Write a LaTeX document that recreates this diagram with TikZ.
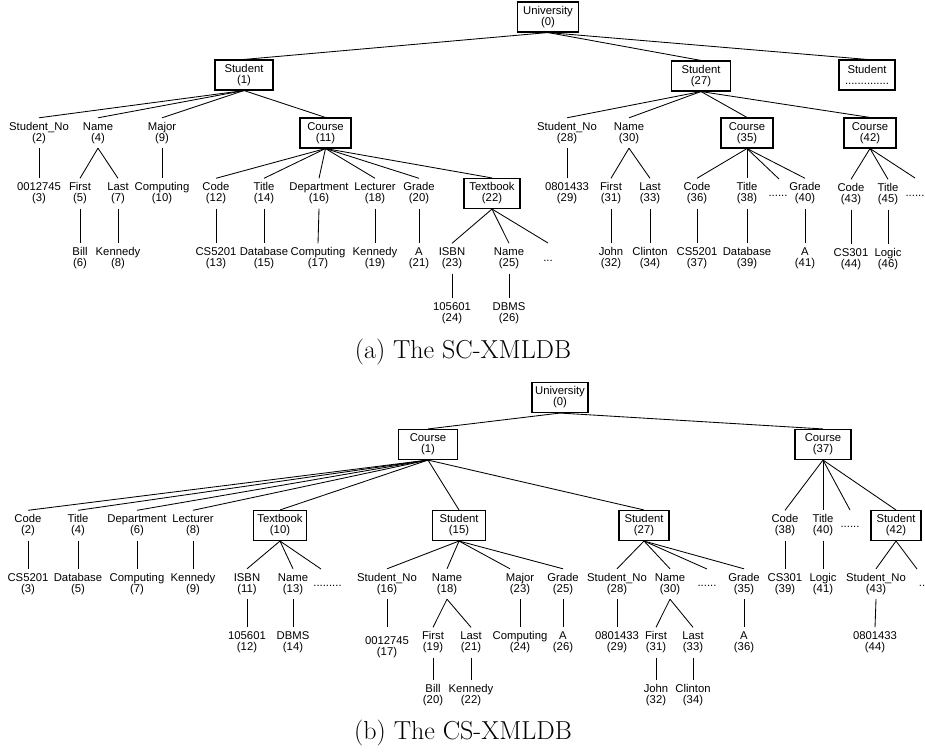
\documentclass[tikz,border=0pt]{standalone}
\usepackage{fontspec}
\newfontfamily\lbfamily{Liberation Sans}
\newcommand{\lbfont}{\lbfamily\fontsize{11.3}{11}\selectfont}
\newcommand{\capfont}{\rmfamily\fontsize{26}{30}\selectfont}
\tikzset{
  lbl/.style={align=center, inner xsep=1pt, inner ysep=1pt, minimum height=30pt, font=\lbfont},
  tbox/.style={lbl, draw, line width=1.1pt, minimum width=#1},
  dotz/.style={inner sep=0pt, anchor=base, font=\lbfont},
  edge/.style={line width=0.85pt},
  capt/.style={font=\capfont, inner sep=0pt},
}
\begin{document}
\begin{tikzpicture}[x=1pt,y=-1pt]
\useasboundingbox (0,0) rectangle (925,754);
% ================= (a) =================
\node[tbox=61pt] (u0) at (548,17) {University\\(0)};
\node[tbox=58pt] (s1) at (244,75) {Student\\(1)};
\node[tbox=59pt] (s27) at (701,76) {Student\\(27)};
\node[tbox=56pt] (sx) at (867,75) {Student\\..............};
\node[lbl] (n2) at (39,133) {Student\_No\\(2)};
\node[lbl] (n4) at (98,133) {Name\\(4)};
\node[lbl] (n9) at (162,133) {Major\\(9)};
\node[tbox=51pt] (c11) at (325.5,133) {Course\\(11)};
\node[lbl] (n28) at (567,133) {Student\_No\\(28)};
\node[lbl] (n30) at (629,133) {Name\\(30)};
\node[tbox=52pt] (c35) at (747,133) {Course\\(35)};
\node[tbox=52pt] (c42) at (870,133) {Course\\(42)};
% row 3
\node[lbl] (n3) at (39,193.5) {0012745\\(3)};
\node[lbl] (n5) at (80,193.5) {First\\(5)};
\node[lbl] (n7) at (118,193.5) {Last\\(7)};
\node[lbl] (n10) at (162,193.5) {Computing\\(10)};
\node[lbl] (n12) at (216,193.5) {Code\\(12)};
\node[lbl] (n14) at (264,193.5) {Title\\(14)};
\node[lbl] (n16) at (319,193.5) {Department\\(16)};
\node[lbl] (n18) at (375,193.5) {Lecturer\\(18)};
\node[lbl] (n20) at (419,193.5) {Grade\\(20)};
\node[tbox=56pt] (t22) at (492,193.5) {Textbook\\(22)};
\node[lbl] (n29) at (567,193.5) {0801433\\(29)};
\node[lbl] (n31) at (611,193.5) {First\\(31)};
\node[lbl] (n33) at (650,193.5) {Last\\(33)};
\node[lbl] (n36) at (697,193.5) {Code\\(36)};
\node[lbl] (n38) at (747,193.5) {Title\\(38)};
\node[lbl] (n40) at (805,193.5) {Grade\\(40)};
\node[lbl] (n43) at (851,194.5) {Code\\(43)};
\node[lbl] (n45) at (888,194.5) {Title\\(45)};
\node[dotz] (d35) at (778,196.6) {......};
\node[dotz] (d42) at (915,196.6) {......};
\coordinate (e35) at (779,179);
\coordinate (e42) at (915,178);
% row 4
\node[lbl] (n6) at (80,258.5) {Bill\\(6)};
\node[lbl] (n8) at (118,258.5) {Kennedy\\(8)};
\node[lbl] (n13) at (216,258.5) {CS5201\\(13)};
\node[lbl] (n15) at (264,258.5) {Database\\(15)};
\node[lbl] (n17) at (318,258.5) {Computing\\(17)};
\node[lbl] (n19) at (375,258.5) {Kennedy\\(19)};
\node[lbl] (n21) at (419,258.5) {A\\(21)};
\node[lbl] (n23) at (452,258.5) {ISBN\\(23)};
\node[lbl] (n25) at (509,258.5) {Name\\(25)};
\node[dotz] (d22) at (548,261.6) {...};
\coordinate (e22) at (548,243);
\node[lbl] (n32) at (611,258.5) {John\\(32)};
\node[lbl] (n34) at (650,258.5) {Clinton\\(34)};
\node[lbl] (n37) at (697,258.5) {CS5201\\(37)};
\node[lbl] (n39) at (747,258.5) {Database\\(39)};
\node[lbl] (n41) at (805,258.5) {A\\(41)};
\node[lbl] (n44) at (851,259.5) {CS301\\(44)};
\node[lbl] (n46) at (888,259.5) {Logic\\(46)};
% row 5
\node[lbl] (n24) at (452,313) {105601\\(24)};
\node[lbl] (n26) at (509,313) {DBMS\\(26)};
% edges (a)
\draw[edge] (u0.south) -- (s1.north);
\draw[edge] (u0.south) -- (s27.north);
\draw[edge] (u0.south) -- (sx.north);
\foreach \t in {n2,n4,n9,c11} \draw[edge] (s1.south) -- (\t.north);
\draw[edge] (n2.south) -- (n3.north);
\draw[edge] (n4.south) -- (n5.north);
\draw[edge] (n4.south) -- (n7.north);
\draw[edge] (n9.south) -- (n10.north);
\foreach \t in {n12,n14,n16,n18,n20,t22} \draw[edge] (c11.south) -- (\t.north);
\draw[edge] (n5.south) -- (n6.north);
\draw[edge] (n7.south) -- (n8.north);
\draw[edge] (n12.south) -- (n13.north);
\draw[edge] (n14.south) -- (n15.north);
\draw[edge] (n16.south) -- (n17.north);
\draw[edge] (n18.south) -- (n19.north);
\draw[edge] (n20.south) -- (n21.north);
\draw[edge] (t22.south) -- (n23.north);
\draw[edge] (t22.south) -- (n25.north);
\draw[edge] (t22.south) -- (e22);
\draw[edge] (n23.south) -- (n24.north);
\draw[edge] (n25.south) -- (n26.north);
\foreach \t in {n28,n30,c35,c42} \draw[edge] (s27.south) -- (\t.north);
\draw[edge] (n28.south) -- (n29.north);
\draw[edge] (n30.south) -- (n31.north);
\draw[edge] (n30.south) -- (n33.north);
\draw[edge] (c35.south) -- (n36.north);
\draw[edge] (c35.south) -- (n38.north);
\draw[edge] (c35.south) -- (e35);
\draw[edge] (c35.south) -- (n40.north);
\draw[edge] (c42.south) -- (n43.north);
\draw[edge] (c42.south) -- (n45.north);
\draw[edge] (c42.south) -- (e42);
\draw[edge] (n31.south) -- (n32.north);
\draw[edge] (n33.south) -- (n34.north);
\draw[edge] (n36.south) -- (n37.north);
\draw[edge] (n38.south) -- (n39.north);
\draw[edge] (n40.south) -- (n41.north);
\draw[edge] (n43.south) -- (n44.north);
\draw[edge] (n45.south) -- (n46.north);
\node[capt] (capa) at (463,352) {(a) The SC-XMLDB};
% ================= (b) =================
\node[tbox=56pt] (bu0) at (560,397.5) {University\\(0)};
\node[tbox=59pt] (bc1) at (428,444.5) {Course\\(1)};
\node[tbox=56pt] (bc37) at (823,444.5) {Course\\(37)};
% row 2
\node[lbl] (b2) at (28,525.5) {Code\\(2)};
\node[lbl] (b4) at (78,525.5) {Title\\(4)};
\node[lbl] (b6) at (137,525.5) {Department\\(6)};
\node[lbl] (b8) at (193,525.5) {Lecturer\\(8)};
\node[tbox=53pt] (bt10) at (280,525.5) {Textbook\\(10)};
\node[tbox=53pt] (bs15) at (459,525.5) {Student\\(15)};
\node[tbox=50pt] (bs27) at (644,525.5) {Student\\(27)};
\node[lbl] (b38) at (785,525.5) {Code\\(38)};
\node[lbl] (b40) at (823,525.5) {Title\\(40)};
\node[dotz] (bd37) at (850,527.6) {......};
\coordinate (be37) at (850,510);
\node[tbox=50pt] (bs42) at (896,525.5) {Student\\(42)};
% row 3
\node[lbl] (b3) at (28,584) {CS5201\\(3)};
\node[lbl] (b5) at (78,584) {Database\\(5)};
\node[lbl] (b7) at (137,584) {Computing\\(7)};
\node[lbl] (b9) at (193,584) {Kennedy\\(9)};
\node[lbl] (b11) at (247,584) {ISBN\\(11)};
\node[lbl] (b13) at (293,584) {Name\\(13)};
\node[dotz] (bd10) at (327.5,586.6) {.........};
\coordinate (be10) at (321,569);
\node[lbl] (b16) at (387,584) {Student\_No\\(16)};
\node[lbl] (b18) at (447,584) {Name\\(18)};
\node[lbl] (b23) at (520,584) {Major\\(23)};
\node[lbl] (b25) at (563,584) {Grade\\(25)};
\node[lbl] (b28) at (617,584) {Student\_No\\(28)};
\node[lbl] (b30) at (670,584) {Name\\(30)};
\node[dotz] (bd27) at (707,586.6) {......};
\coordinate (be27) at (707,569);
\node[lbl] (b35) at (744,584) {Grade\\(35)};
\node[lbl] (b39) at (785,584) {CS301\\(39)};
\node[lbl] (b41) at (823,584) {Logic\\(41)};
\node[lbl] (b43) at (876,584) {Student\_No\\(43)};
\node[dotz] (bd42) at (922,586.6) {..};
\coordinate (be42) at (917,569);
% row 4
\node[lbl] (b12) at (247,642.5) {105601\\(12)};
\node[lbl] (b14) at (293,642.5) {DBMS\\(14)};
\node[lbl] (b17) at (387,647.5) {0012745\\(17)};
\node[lbl] (b19) at (433,642.5) {First\\(19)};
\node[lbl] (b21) at (471,642.5) {Last\\(21)};
\node[lbl] (b24) at (520,642.5) {Computing\\(24)};
\node[lbl] (b26) at (563,642.5) {A\\(26)};
\node[lbl] (b29) at (617,642.5) {0801433\\(29)};
\node[lbl] (b31) at (656,642.5) {First\\(31)};
\node[lbl] (b33) at (693,642.5) {Last\\(33)};
\node[lbl] (b36) at (744,642.5) {A\\(36)};
\node[lbl] (b44) at (875,642.5) {0801433\\(44)};
% row 5
\node[lbl] (b20) at (433,695.5) {Bill\\(20)};
\node[lbl] (b22) at (471,695.5) {Kennedy\\(22)};
\node[lbl] (b32) at (656,695.5) {John\\(32)};
\node[lbl] (b34) at (693,695.5) {Clinton\\(34)};
% edges (b)
\draw[edge] (bu0.south) -- (bc1.north);
\draw[edge] (bu0.south) -- (bc37.north);
\foreach \t in {b2,b4,b6,b8,bt10,bs15,bs27} \draw[edge] (bc1.south) -- (\t.north);
\draw[edge] (bc37.south) -- (b38.north);
\draw[edge] (bc37.south) -- (b40.north);
\draw[edge] (bc37.south) -- (be37);
\draw[edge] (bc37.south) -- (bs42.north);
\draw[edge] (b2.south) -- (b3.north);
\draw[edge] (b4.south) -- (b5.north);
\draw[edge] (b6.south) -- (b7.north);
\draw[edge] (b8.south) -- (b9.north);
\draw[edge] (b38.south) -- (b39.north);
\draw[edge] (b40.south) -- (b41.north);
\draw[edge] (bt10.south) -- (b11.north);
\draw[edge] (bt10.south) -- (b13.north);
\draw[edge] (bt10.south) -- (be10);
\draw[edge] (b11.south) -- (b12.north);
\draw[edge] (b13.south) -- (b14.north);
\draw[edge] (bs15.south) -- (b16.north);
\draw[edge] (bs15.south) -- (b18.north);
\draw[edge] (bs15.south) -- ([xshift=-10pt]b23.north);
\draw[edge] (bs15.south) -- (b25.north);
\draw[edge] (b16.south) -- ([yshift=5pt]b17.north);
\draw[edge] (b18.south) -- (b19.north);
\draw[edge] (b18.south) -- (b21.north);
\draw[edge] (b19.south) -- (b20.north);
\draw[edge] (b21.south) -- (b22.north);
\draw[edge] (b23.south) -- (b24.north);
\draw[edge] (b25.south) -- (b26.north);
\draw[edge] (bs27.south) -- (b28.north);
\draw[edge] (bs27.south) -- (b30.north);
\draw[edge] (bs27.south) -- (be27);
\draw[edge] (bs27.south) -- (b35.north);
\draw[edge] (b28.south) -- (b29.north);
\draw[edge] (b30.south) -- (b31.north);
\draw[edge] (b30.south) -- (b33.north);
\draw[edge] (b31.south) -- (b32.north);
\draw[edge] (b33.south) -- (b34.north);
\draw[edge] (b35.south) -- (b36.north);
\draw[edge] (bs42.south) -- (b43.north);
\draw[edge] (bs42.south) -- (be42);
\draw[edge] (b43.south) -- (b44.north);
\node[capt] (capb) at (463,733) {(b) The CS-XMLDB};
\end{tikzpicture}
\end{document}
